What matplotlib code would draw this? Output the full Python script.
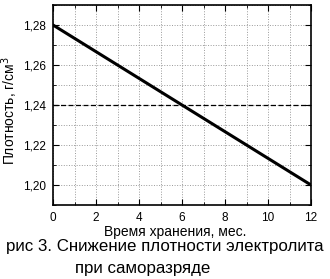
import matplotlib.pyplot as plt
from matplotlib.ticker import MultipleLocator, FuncFormatter

plt.rcParams['font.family'] = ['Liberation Sans', 'DejaVu Sans']

# data
months = [0, 12]
density = [1.28, 1.20]
threshold = 1.24
x_ticks = [0, 2, 4, 6, 8, 10, 12]
y_ticks = [1.20, 1.22, 1.24, 1.26, 1.28]

fig = plt.figure(figsize=(3.3, 2.79), dpi=100)
ax = fig.add_axes([53 / 330, 1 - 205 / 279, 258 / 330, 200 / 279])

ax.plot(months, density, color='black', lw=2.2)
ax.axhline(threshold, color='black', lw=0.9, ls=(0, (4, 2)))

ax.set_xlim(0, 12)
ax.set_ylim(1.19, 1.29)
ax.set_xticks(x_ticks)
ax.set_yticks(y_ticks)
ax.xaxis.set_minor_locator(MultipleLocator(1))
ax.yaxis.set_minor_locator(MultipleLocator(0.01))
ax.yaxis.set_major_formatter(FuncFormatter(lambda v, p: f'{v:.2f}'.replace('.', ',')))

ax.grid(which='both', color='#999999', ls=':', lw=0.7)
ax.tick_params(which='both', direction='in', top=True, right=True, labelsize=8.5, pad=5)
ax.tick_params(which='major', length=4)
ax.tick_params(which='minor', length=2.5)
for s in ax.spines.values():
    s.set_linewidth(1.2)

ax.set_ylabel('Плотность, г/см$^3$', fontsize=10)
ax.yaxis.set_label_coords(-33 / 258, 0.47)
ax.set_xlabel('Время хранения, мес.', fontsize=10)
ax.xaxis.set_label_coords((175 - 53) / 258, -20 / 200)

fig.text(0.5, 1 - 247 / 279, 'рис 3. Снижение плотности электролита', ha='center', va='center', fontsize=12.2)
fig.text(75 / 330, 1 - 268 / 279, 'при саморазряде', ha='left', va='center', fontsize=12.2)

fig.savefig('out.png', dpi=100)
